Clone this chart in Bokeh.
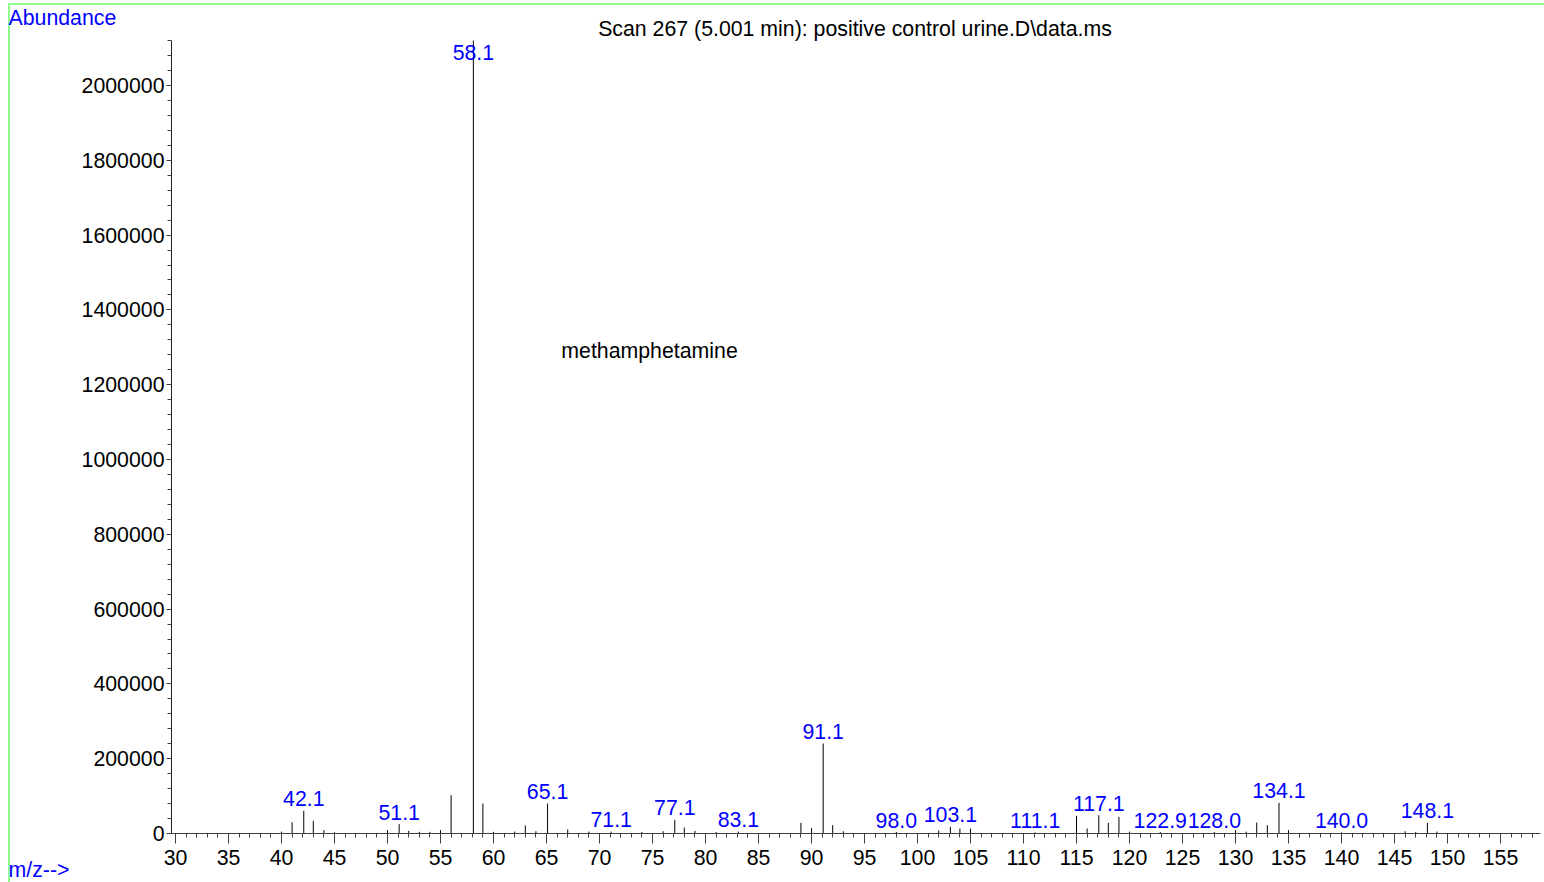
import numpy as np
from bokeh.plotting import figure
from bokeh.models import Range1d, SingleIntervalTicker, Label, ColumnDataSource, BasicTickFormatter
from bokeh.embed import file_html
from bokeh.resources import INLINE
from bokeh.core.properties import value

# ---------------- data ----------------
mz = [40, 41, 42.1, 43, 44, 45, 50, 51.1, 52, 53, 54, 55, 56, 58.1, 59, 60, 62, 63, 64, 65.1,
      67, 69, 71.1, 74, 76, 77.1, 78, 79, 81, 83.1, 89, 90, 91.1, 92, 93, 98.0, 102, 103.1, 104,
      105, 111.1, 115, 116, 117.1, 118, 119, 120, 122.9, 128.0, 130, 131, 132, 133, 134.1, 135,
      140.0, 146, 147, 148.1, 149]
abundance = [5000, 30000, 60700, 34000, 9000, 3500, 9000, 25000, 7000, 4500, 4500, 9000, 102500,
             2150000, 80200, 4500, 5000, 21400, 6000, 80200,
             10700, 5000, 5000, 4000, 6000, 36500, 16000, 7000, 4000, 5000, 28500, 14300, 240600,
             22300, 6000, 4000, 8000, 17800, 13400,
             13000, 3000, 47200, 13400, 49000, 28500, 44500, 5000, 4000, 4000, 9000, 5000, 29400,
             22300, 82000, 9000,
             3000, 6000, 4000, 28500, 5000]
labelled = ["42.1", "51.1", "58.1", "65.1", "71.1", "77.1", "83.1", "91.1", "98.0", "103.1",
            "111.1", "117.1", "122.9", "128.0", "134.1", "140.0", "148.1"]

title_text = "Scan 267 (5.001 min): positive control urine.D\\data.ms"
compound = "methamphetamine"
compound_pos = (66.4, 1291400)

X_START, X_END = 29.623, 158.77
Y_END = 2120300

FONT = "Liberation Sans"
FS = "21.3px"
BLUE = "#0000ff"
GREEN = "#90ff90"

# ---------------- figure ----------------
W, H = 1544, 890
BL, BR, BT, BB = 171, 4, 0, 49
p = figure(width=W, height=H, output_backend="svg", toolbar_location=None,
           x_range=Range1d(X_START, X_END), y_range=Range1d(0, Y_END),
           min_border_left=BL, min_border_right=BR, min_border_top=BT, min_border_bottom=BB)
p.styles = {
    "margin-top": "-8px",
    "background": (f"linear-gradient({GREEN},{GREEN}) 8px 11px / 2px calc(100% - 11px) no-repeat, "
                   f"linear-gradient({GREEN},{GREEN}) 8px 11px / calc(100% - 8px) 2px no-repeat"),
}
p.outline_line_color = None
p.xgrid.visible = False
p.ygrid.visible = False
p.background_fill_color = "white"
p.border_fill_color = None

frame_h = 793
units_per_px = Y_END / frame_h

src = ColumnDataSource(dict(x=mz, y0=[0] * len(mz), y1=abundance))
p.segment(x0="x", y0="y0", x1="x", y1="y1", source=src, line_color="black", line_width=1)

lab_x = [float(t) for t in labelled]
lab_y = []
for t in labelled:
    h = abundance[mz.index(float(t))]
    lab_y.append(min(h, Y_END - 24 * units_per_px))
lsrc = ColumnDataSource(dict(x=lab_x, y=lab_y, t=labelled))
p.text(x="x", y="y", text="t", source=lsrc, text_color=BLUE, text_font=value(FONT),
       text_font_size=FS, text_align="center", text_baseline="alphabetic", y_offset=-12)

# axes
for ax in p.xaxis:
    ax.ticker = SingleIntervalTicker(interval=5, num_minor_ticks=5)
    ax.major_tick_in = 0
    ax.major_tick_out = 10
    ax.minor_tick_in = 0
    ax.minor_tick_out = 4
    ax.axis_line_color = "#404040"
    ax.major_tick_line_color = "#404040"
    ax.minor_tick_line_color = "#404040"
    ax.major_label_text_font = FONT
    ax.major_label_text_font_size = FS
    ax.major_label_text_color = "black"
    ax.major_label_standoff = 6
for ax in p.yaxis:
    ax.ticker = SingleIntervalTicker(interval=200000, num_minor_ticks=5)
    ax.formatter = BasicTickFormatter(use_scientific=False)
    ax.major_tick_in = 0
    ax.major_tick_out = 5
    ax.minor_tick_in = 0
    ax.minor_tick_out = 4
    ax.axis_line_color = "#202020"
    ax.major_tick_line_color = "#404040"
    ax.minor_tick_line_color = "#404040"
    ax.major_label_text_font = FONT
    ax.major_label_text_font_size = FS
    ax.major_label_text_color = "black"
    ax.major_label_standoff = 2

# texts
p.add_layout(Label(x=compound_pos[0], y=compound_pos[1], text=compound, text_font=FONT,
                   text_font_size=FS, text_color="black", text_baseline="alphabetic",
                   text_align="left"))
frame_w = W - BL - BR
p.add_layout(Label(x=frame_w / 2 - 1, y=11.5, x_units="screen", y_units="screen", text=title_text,
                   text_font=FONT, text_font_size=FS, text_color="black",
                   text_align="center", text_baseline="alphabetic"), "above")
p.add_layout(Label(x=-163, y=-1.5, x_units="screen", y_units="screen", text="Abundance",
                   text_font=FONT, text_font_size=FS, text_color=BLUE,
                   text_align="left", text_baseline="alphabetic"), "above")
p.add_layout(Label(x=-9, y=-36, x_units="screen", y_units="screen", text="m/z-->",
                   text_font=FONT, text_font_size=FS, text_color=BLUE,
                   text_align="left", text_baseline="alphabetic"), "left")

open("out.html", "w").write(file_html(p, INLINE))
